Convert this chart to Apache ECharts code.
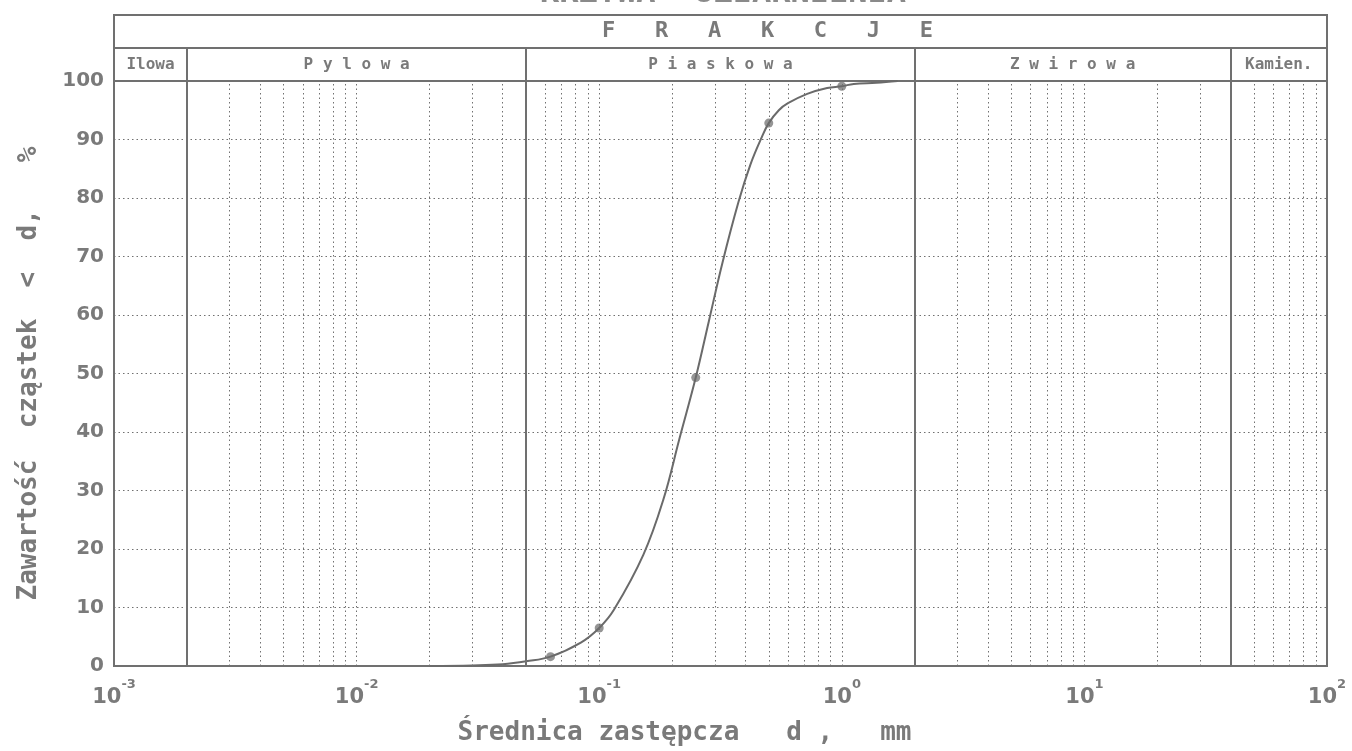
<!DOCTYPE html>
<html>
<head>
<meta charset="utf-8">
<title>Krzywa uziarnienia</title>
<script src="https://cdn.jsdelivr.net/npm/echarts@6/dist/echarts.min.js"></script>
<style>
  html, body { margin: 0; padding: 0; background: #fff; }
  #chart { width: 1352px; height: 751px; }
</style>
</head>
<body>
<div id="chart"></div>
<script>
// measured points: sieve diameter (mm) and passing (%)
const sieveD = [0.063, 0.1, 0.25, 0.5, 1.0]
const sievePassing = [1.6, 6.5, 49.3, 92.8, 99.1]

// points
const curveD = [0.02, 0.03, 0.04, 0.05, 0.063, 0.084, 0.1, 0.115, 0.152, 0.184, 0.214, 0.25,
  0.283, 0.322, 0.375, 0.42, 0.468, 0.5, 0.55, 0.6, 0.72, 0.87, 1.0, 1.12, 1.39, 1.7]
const curvePassing = [0, 0.1, 0.3, 0.8, 1.6, 4, 6.5, 9.6, 19, 28.5, 38.8, 49.3,
  58.9, 68.9, 79.3, 85.7, 90.4, 92.8, 95, 96.2, 97.8, 98.8, 99.1, 99.5, 99.7, 100]

// fractions (mm)
const fractionEdges = [0.001, 0.002, 0.05, 2, 40, 100]
const fractionNames = ['Ilowa', 'P y l o w a', 'P i a s k o w a', 'Z w i r o w a', 'Kamien.']
const headerTitle = 'F   R   A   K   C   J   E'

// dotted log-paper lines (mm)
const minorLines = [0.003, 0.004, 0.005, 0.006, 0.007, 0.008, 0.009, 0.01, 0.02, 0.03, 0.04,
  0.06, 0.07, 0.08, 0.09, 0.1, 0.2, 0.3, 0.4, 0.5, 0.6, 0.7, 0.8, 0.9, 1,
  3, 4, 5, 6, 7, 8, 9, 10, 20, 30, 50, 60, 70, 80, 90]

const INK = '#707070'
const TEXT = '#7a7a7a'
const MONO = '"DejaVu Sans Mono", monospace'
const SANS = '"DejaVu Sans", sans-serif'
const DOTS = [1.5, 3]

const chart = echarts.init(document.getElementById('chart'))

// inner fraction boundaries (solid lines)
const bounds = fractionEdges.slice(1, -1)

// vertical line from bottom to top of the plot at diameter v
function vLine (v, style) {
  return [{ coord: [v, 0], lineStyle: style }, { coord: [v, 100] }]
}

chart.setOption({
  animation: false,
  backgroundColor: '#fff',
  title: {
    text: 'KRZYWA  UZIARNIENIA',
    left: 535,
    top: -27,
    textStyle: { fontFamily: MONO, fontWeight: 'bold', fontSize: 32, color: '#8a8a8a' }
  },
  grid: [
    {
      left: 114, right: 25, top: 81, bottom: 82,
      show: true, borderColor: INK, borderWidth: 2
    },
    {
      left: 114, right: 25, top: 15, height: 66,
      show: true, borderColor: INK, borderWidth: 2
    }
  ],
  xAxis: [
    {
      type: 'log',
      logBase: 10,
      gridIndex: 0,
      min: 0.001,
      max: 100,
      splitNumber: 5,
      axisLine: { lineStyle: { color: INK, width: 2 } },
      axisTick: { show: false },
      splitLine: { show: false },
      axisLabel: {
        margin: 12,
        formatter: v => '{b|10}{s|' + Math.round(Math.log10(v)) + '}',
        rich: {
          b: { fontFamily: SANS, fontWeight: 'bold', fontSize: 21, color: TEXT, verticalAlign: 'bottom', lineHeight: 30 },
          s: { fontFamily: SANS, fontWeight: 'bold', fontSize: 13, color: TEXT, verticalAlign: 'top', lineHeight: 30 }
        }
      },
      name: 'Średnica zastępcza   d ,   mm',
      nameLocation: 'middle',
      nameGap: 54,
      nameTextStyle: {
        fontFamily: MONO, fontWeight: 'bold', fontSize: 26, color: TEXT,
        padding: [0, 72, 0, 0]
      }
    },
    {
      type: 'log',
      logBase: 10,
      gridIndex: 1,
      min: 0.001,
      max: 100,
      show: false
    }
  ],
  yAxis: [
    {
      type: 'value',
      gridIndex: 0,
      min: 0,
      max: 100,
      interval: 10,
      axisLine: { show: false },
      axisTick: { show: false },
      axisLabel: { margin: 10, fontFamily: SANS, fontWeight: 'bold', fontSize: 20, color: TEXT },
      splitLine: { lineStyle: { color: INK, width: 1, type: DOTS } },
      name: 'Zawartość  cząstek  <  d,   %',
      nameLocation: 'middle',
      nameRotate: 90,
      nameGap: 72,
      nameTextStyle: { fontFamily: MONO, fontWeight: 'bold', fontSize: 26, color: TEXT }
    },
    {
      type: 'value',
      gridIndex: 1,
      min: 0,
      max: 2,
      show: false
    }
  ],
  series: [
    {
      // log paper: dotted minor lines and solid fraction limits
      type: 'line',
      xAxisIndex: 0,
      yAxisIndex: 0,
      data: [],
      silent: true,
      markLine: {
        silent: true,
        symbol: ['none', 'none'],
        label: { show: false },
        lineStyle: { color: INK, width: 1, type: DOTS },
        data: minorLines.map(v => vLine(v))
          .concat(bounds.map(v => vLine(v, { type: 'solid', width: 2, color: INK })))
      }
    },
    {
      // header: FRAKCJE row and fraction names
      type: 'line',
      xAxisIndex: 1,
      yAxisIndex: 1,
      data: [],
      silent: true,
      markLine: {
        silent: true,
        symbol: ['none', 'none'],
        label: { show: false },
        lineStyle: { color: INK, width: 2, type: 'solid' },
        data: [{ yAxis: 1 }].concat(bounds.map(v => [{ coord: [v, 0] }, { coord: [v, 1] }]))
      },
      markArea: {
        silent: true,
        itemStyle: { color: 'transparent' },
        label: {
          position: 'inside',
          fontFamily: MONO,
          fontWeight: 'bold',
          fontSize: 16,
          color: TEXT
        },
        data: fractionNames.map((name, i) => [
          { name: name, coord: [fractionEdges[i], 0] },
          { coord: [fractionEdges[i + 1], 1] }
        ]).concat([[
          { name: headerTitle, coord: [fractionEdges[0], 1], label: { fontSize: 22, offset: [47, 0] } },
          { coord: [fractionEdges[fractionEdges.length - 1], 2] }
        ]])
      }
    },
    {
      name: 'krzywa',
      type: 'line',
      xAxisIndex: 0,
      yAxisIndex: 0,
      smooth: 0.4,
      showSymbol: false,
      lineStyle: { color: '#6a6a6a', width: 2 },
      data: curveD.map((d, i) => [d, curvePassing[i]])
    },
    {
      name: 'punkty',
      type: 'scatter',
      xAxisIndex: 0,
      yAxisIndex: 0,
      symbol: 'circle',
      symbolSize: 9,
      itemStyle: { color: '#7a7a7a' },
      data: sieveD.map((d, i) => [d, sievePassing[i]])
    }
  ]
})
</script>
</body>
</html>
